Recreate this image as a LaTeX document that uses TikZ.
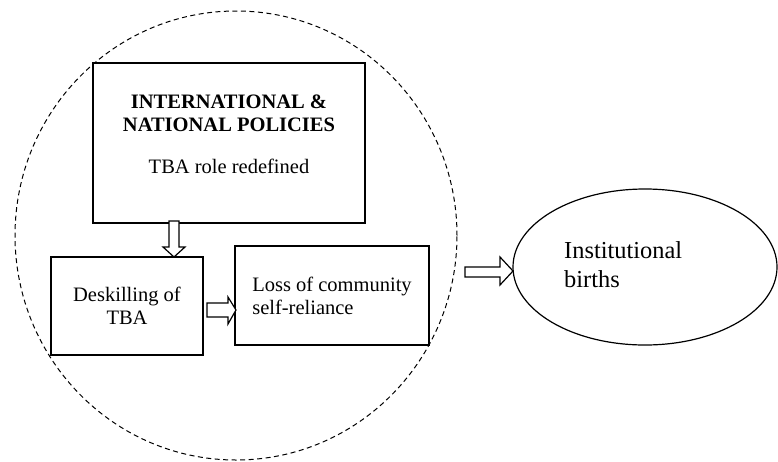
\documentclass[tikz,border=0pt]{standalone}
\usepackage{fontspec}
\setmainfont{Liberation Serif}
\usetikzlibrary{shapes.geometric}
\begin{document}
\begin{tikzpicture}[x=1pt,y=-1pt,
  box/.style={draw,line width=1.2pt,rectangle,inner sep=0pt},
  txt/.style={font=\fontsize{20.5}{23}\selectfont,inner sep=0pt},
  barrow/.style={draw,line width=1.2pt,fill=white,line join=miter}]
\useasboundingbox (0,0) rectangle (778,461);
% dashed circle
\node[draw,dash pattern=on 5pt off 3.5pt,line width=1pt,ellipse,minimum width=442,minimum height=449,inner sep=0pt] (zone) at (236,235.5) {};
% top box
\node[box,minimum width=272,minimum height=160] (pol) at (229,143) {};
\node[txt,align=center] (poltxt) at (229,134) {\textbf{INTERNATIONAL \&}\\\textbf{NATIONAL POLICIES}\\[19pt]TBA role redefined};
% deskilling
\node[box,minimum width=152,minimum height=98,txt,align=center] (desk) at (127,306) {Deskilling of\\TBA};
% loss
\node[box,minimum width=194,minimum height=99,txt,align=left] (loss) at (332,295.5) {Loss of community\\self-reliance};
% ellipse
\node[draw,line width=1.2pt,ellipse,minimum width=264,minimum height=156,inner sep=0pt] (inst) at (645,267) {};
\node[font=\fontsize{24.4}{29}\selectfont,inner sep=0pt,align=left,anchor=west] (insttxt) at (564,265) {Institutional\\births};
% block arrows
\draw[barrow] (169,221) -- (179,221) -- (179,247) -- (185,247) -- (174,257) -- (163,247) -- (169,247) -- cycle;
\draw[barrow] (207,303) -- (228,303) -- (228,297) -- (236,310) -- (228,324) -- (228,317) -- (207,317) -- cycle;
\draw[barrow] (465,267) -- (500,267) -- (500,257) -- (513,271) -- (500,285) -- (500,277) -- (465,277) -- cycle;
\end{tikzpicture}
\end{document}
